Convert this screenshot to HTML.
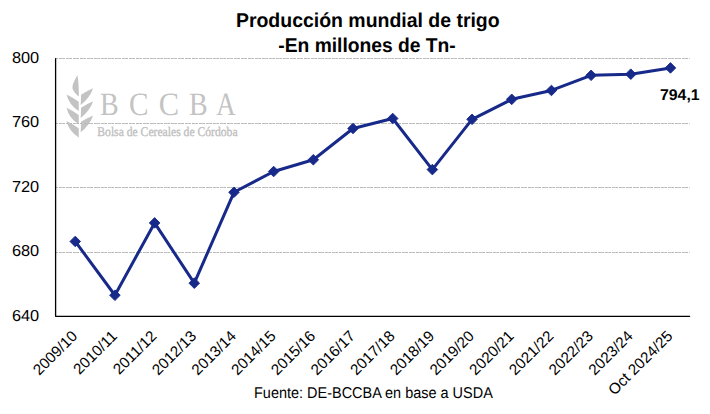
<!DOCTYPE html>
<html><head><meta charset="utf-8"><title>Producción mundial de trigo</title>
<style>
html,body{margin:0;padding:0;background:#fff;}
body{width:710px;height:414px;overflow:hidden;}
svg{display:block;}
text{font-family:"Liberation Sans",Arial,sans-serif;text-rendering:geometricPrecision;}
.serif{font-family:"Liberation Serif","Times New Roman",serif;}
</style></head><body>
<svg width="710" height="414" viewBox="0 0 710 414">
<rect width="710" height="414" fill="#fff"/>
<g fill="#c3c3c3"><path d="M77.5,75.2 C74.5,80 72,85 72.5,88.5 C73.5,91.5 76,94 78.3,96.2 L78.8,96 C78.9,89 78.5,81 77.5,75.2 Z"/><path d="M66.5,94.5 Q73.0,97.5 78.7,101.7 L78.8,111.0 Q69.0,105.0 66.5,94.5 Z"/><path d="M66.5,107.8 Q73.0,110.8 78.7,115.0 L78.8,124.3 Q69.0,118.3 66.5,107.8 Z"/><path d="M66.5,121.1 Q73.0,124.1 78.7,128.3 L78.8,137.6 Q69.0,131.6 66.5,121.1 Z"/><path d="M93.1,88.3 Q86.6,91.1 81.1,94.7 L80.7,105.1 Q89.9,97.8 93.1,88.3 Z"/><path d="M93.1,101.3 Q86.6,104.1 81.1,107.7 L80.7,118.1 Q89.9,110.8 93.1,101.3 Z"/><path d="M93.1,115.4 Q86.6,118.2 81.1,121.8 L80.7,132.2 Q89.9,124.9 93.1,115.4 Z"/></g>
<text class="serif" font-size="32.6" fill="#c3c3c3" transform="translate(100.09 114.5) scale(0.859 1)">B</text>
<text class="serif" font-size="32.6" fill="#c3c3c3" transform="translate(129.00 114.5) scale(0.897 1)">C</text>
<text class="serif" font-size="32.6" fill="#c3c3c3" transform="translate(158.65 114.5) scale(0.935 1)">C</text>
<text class="serif" font-size="32.6" fill="#c3c3c3" transform="translate(189.09 114.5) scale(0.859 1)">B</text>
<text class="serif" font-size="32.6" fill="#c3c3c3" transform="translate(216.24 114.5) scale(0.827 1)">A</text>
<text class="serif" x="97.3" y="135.6" font-size="13.2" fill="#c0c0c0" stroke="#c0c0c0" stroke-width="0.35" textLength="140.3" lengthAdjust="spacingAndGlyphs">Bolsa de Cereales de Córdoba</text>
<line x1="56" y1="252.5" x2="689.6" y2="252.5" stroke="#d2d2d2" stroke-width="1" stroke-dasharray="6 1" stroke-dashoffset="4"/>
<line x1="56" y1="252.5" x2="689.6" y2="252.5" stroke="#b8b8b8" stroke-width="1" stroke-dasharray="2.5 1.2 2.3 1" stroke-dashoffset="4"/>
<line x1="56" y1="187.5" x2="689.6" y2="187.5" stroke="#d2d2d2" stroke-width="1" stroke-dasharray="6 1" stroke-dashoffset="4"/>
<line x1="56" y1="187.5" x2="689.6" y2="187.5" stroke="#b8b8b8" stroke-width="1" stroke-dasharray="2.5 1.2 2.3 1" stroke-dashoffset="4"/>
<line x1="56" y1="123.5" x2="689.6" y2="123.5" stroke="#d2d2d2" stroke-width="1" stroke-dasharray="6 1" stroke-dashoffset="4"/>
<line x1="56" y1="123.5" x2="689.6" y2="123.5" stroke="#b8b8b8" stroke-width="1" stroke-dasharray="2.5 1.2 2.3 1" stroke-dashoffset="4"/>
<line x1="56" y1="58.5" x2="689.6" y2="58.5" stroke="#d2d2d2" stroke-width="1" stroke-dasharray="6 1" stroke-dashoffset="4"/>
<line x1="56" y1="58.5" x2="689.6" y2="58.5" stroke="#b8b8b8" stroke-width="1" stroke-dasharray="2.5 1.2 2.3 1" stroke-dashoffset="4"/>
<path d="M55.6,58.6 V316.35 H689.6" fill="none" stroke="#000" stroke-width="1.3" stroke-linejoin="round" stroke-linecap="round"/>
<text x="39.2" y="320.6" font-size="15.9" text-anchor="end" fill="#000" textLength="27.3" lengthAdjust="spacingAndGlyphs">640</text>
<text x="39.2" y="256.1" font-size="15.9" text-anchor="end" fill="#000" textLength="27.3" lengthAdjust="spacingAndGlyphs">680</text>
<text x="39.2" y="191.7" font-size="15.9" text-anchor="end" fill="#000" textLength="27.3" lengthAdjust="spacingAndGlyphs">720</text>
<text x="39.2" y="127.2" font-size="15.9" text-anchor="end" fill="#000" textLength="27.3" lengthAdjust="spacingAndGlyphs">760</text>
<text x="39.2" y="62.8" font-size="15.9" text-anchor="end" fill="#000" textLength="27.3" lengthAdjust="spacingAndGlyphs">800</text>
<polyline points="75.24,241.44 114.92,295.25 154.60,222.91 194.28,283.17 233.97,192.29 273.65,171.51 313.33,159.75 353.01,128.49 392.69,118.50 432.37,169.58 472.05,119.31 511.73,99.33 551.42,90.46 591.10,75.32 630.78,74.19 670.46,67.91" fill="none" stroke="#172989" stroke-width="3" stroke-linejoin="round"/>
<path d="M75.24,236.14 L80.54,241.44 L75.24,246.74 L69.94,241.44 Z" fill="#172989" stroke="#172989" stroke-width="0.9" stroke-linejoin="miter"/>
<path d="M114.92,289.95 L120.22,295.25 L114.92,300.55 L109.62,295.25 Z" fill="#172989" stroke="#172989" stroke-width="0.9" stroke-linejoin="miter"/>
<path d="M154.60,217.61 L159.90,222.91 L154.60,228.21 L149.30,222.91 Z" fill="#172989" stroke="#172989" stroke-width="0.9" stroke-linejoin="miter"/>
<path d="M194.28,277.87 L199.58,283.17 L194.28,288.47 L188.98,283.17 Z" fill="#172989" stroke="#172989" stroke-width="0.9" stroke-linejoin="miter"/>
<path d="M233.97,186.99 L239.27,192.29 L233.97,197.59 L228.67,192.29 Z" fill="#172989" stroke="#172989" stroke-width="0.9" stroke-linejoin="miter"/>
<path d="M273.65,166.21 L278.95,171.51 L273.65,176.81 L268.35,171.51 Z" fill="#172989" stroke="#172989" stroke-width="0.9" stroke-linejoin="miter"/>
<path d="M313.33,154.45 L318.63,159.75 L313.33,165.05 L308.03,159.75 Z" fill="#172989" stroke="#172989" stroke-width="0.9" stroke-linejoin="miter"/>
<path d="M353.01,123.19 L358.31,128.49 L353.01,133.79 L347.71,128.49 Z" fill="#172989" stroke="#172989" stroke-width="0.9" stroke-linejoin="miter"/>
<path d="M392.69,113.20 L397.99,118.50 L392.69,123.80 L387.39,118.50 Z" fill="#172989" stroke="#172989" stroke-width="0.9" stroke-linejoin="miter"/>
<path d="M432.37,164.28 L437.67,169.58 L432.37,174.88 L427.07,169.58 Z" fill="#172989" stroke="#172989" stroke-width="0.9" stroke-linejoin="miter"/>
<path d="M472.05,114.01 L477.35,119.31 L472.05,124.61 L466.75,119.31 Z" fill="#172989" stroke="#172989" stroke-width="0.9" stroke-linejoin="miter"/>
<path d="M511.73,94.03 L517.03,99.33 L511.73,104.63 L506.43,99.33 Z" fill="#172989" stroke="#172989" stroke-width="0.9" stroke-linejoin="miter"/>
<path d="M551.42,85.16 L556.72,90.46 L551.42,95.76 L546.12,90.46 Z" fill="#172989" stroke="#172989" stroke-width="0.9" stroke-linejoin="miter"/>
<path d="M591.10,70.02 L596.40,75.32 L591.10,80.62 L585.80,75.32 Z" fill="#172989" stroke="#172989" stroke-width="0.9" stroke-linejoin="miter"/>
<path d="M630.78,68.89 L636.08,74.19 L630.78,79.49 L625.48,74.19 Z" fill="#172989" stroke="#172989" stroke-width="0.9" stroke-linejoin="miter"/>
<path d="M670.46,62.61 L675.76,67.91 L670.46,73.21 L665.16,67.91 Z" fill="#172989" stroke="#172989" stroke-width="0.9" stroke-linejoin="miter"/>
<text x="78.24" y="337" font-size="15.3" text-anchor="end" fill="#000" transform="rotate(-45 78.24 337)">2009/10</text>
<text x="117.92" y="337" font-size="15.3" text-anchor="end" fill="#000" transform="rotate(-45 117.92 337)">2010/11</text>
<text x="157.60" y="337" font-size="15.3" text-anchor="end" fill="#000" transform="rotate(-45 157.60 337)">2011/12</text>
<text x="197.28" y="337" font-size="15.3" text-anchor="end" fill="#000" transform="rotate(-45 197.28 337)">2012/13</text>
<text x="236.97" y="337" font-size="15.3" text-anchor="end" fill="#000" transform="rotate(-45 236.97 337)">2013/14</text>
<text x="276.65" y="337" font-size="15.3" text-anchor="end" fill="#000" transform="rotate(-45 276.65 337)">2014/15</text>
<text x="316.33" y="337" font-size="15.3" text-anchor="end" fill="#000" transform="rotate(-45 316.33 337)">2015/16</text>
<text x="356.01" y="337" font-size="15.3" text-anchor="end" fill="#000" transform="rotate(-45 356.01 337)">2016/17</text>
<text x="395.69" y="337" font-size="15.3" text-anchor="end" fill="#000" transform="rotate(-45 395.69 337)">2017/18</text>
<text x="435.37" y="337" font-size="15.3" text-anchor="end" fill="#000" transform="rotate(-45 435.37 337)">2018/19</text>
<text x="475.05" y="337" font-size="15.3" text-anchor="end" fill="#000" transform="rotate(-45 475.05 337)">2019/20</text>
<text x="514.73" y="337" font-size="15.3" text-anchor="end" fill="#000" transform="rotate(-45 514.73 337)">2020/21</text>
<text x="554.42" y="337" font-size="15.3" text-anchor="end" fill="#000" transform="rotate(-45 554.42 337)">2021/22</text>
<text x="594.10" y="337" font-size="15.3" text-anchor="end" fill="#000" transform="rotate(-45 594.10 337)">2022/23</text>
<text x="633.78" y="337" font-size="15.3" text-anchor="end" fill="#000" transform="rotate(-45 633.78 337)">2023/24</text>
<text x="673.46" y="337" font-size="15.3" text-anchor="end" fill="#000" transform="rotate(-45 673.46 337)">Oct 2024/25</text>
<text x="660" y="99.8" font-size="15.5" font-weight="bold" fill="#000" textLength="39.6" lengthAdjust="spacingAndGlyphs">794,1</text>
<text x="367.8" y="27" font-size="20" font-weight="bold" text-anchor="middle" fill="#000" textLength="263.7" lengthAdjust="spacingAndGlyphs">Producción mundial de trigo</text>
<text x="367" y="51.9" font-size="20" font-weight="bold" text-anchor="middle" fill="#000" textLength="177.4" lengthAdjust="spacingAndGlyphs">-En millones de Tn-</text>
<text x="254" y="397.8" font-size="15.6" fill="#000" textLength="238.8" lengthAdjust="spacingAndGlyphs">Fuente: DE-BCCBA en base a USDA</text>
</svg>
</body></html>
